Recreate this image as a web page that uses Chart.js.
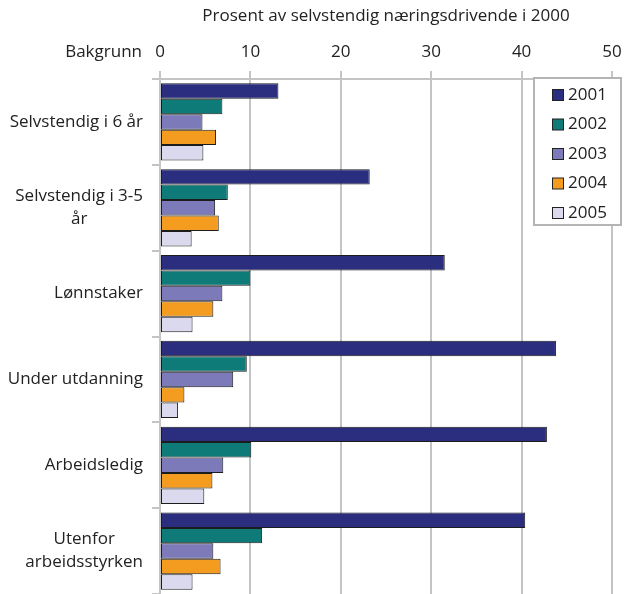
<!DOCTYPE html>
<html>
<head>
<meta charset="utf-8">
<script src="https://cdn.jsdelivr.net/npm/chart.js@4/dist/chart.umd.min.js"></script>
<style>
  html, body { margin: 0; padding: 0; background: #fff; }
  #wrap { width: 629px; height: 594px; }
</style>
</head>
<body>
<div id="wrap"><canvas id="c" width="629" height="594"></canvas></div>
<script>
// Background groups (multi-line labels as arrays)
const categories = [
  ['Selvstendig i 6 år'],
  ['Selvstendig i 3-5', 'år'],
  ['Lønnstaker'],
  ['Under utdanning'],
  ['Arbeidsledig'],
  ['Utenfor', 'arbeidsstyrken']
];
const years = ['2001', '2002', '2003', '2004', '2005'];

// Share (%) of self-employed in 2000, by year
const v2001 = [13.1, 23.2, 31.5, 43.8, 42.8, 40.4];
const v2002 = [6.9, 7.5, 10.0, 9.6, 10.1, 11.3];
const v2003 = [4.7, 6.1, 6.9, 8.1, 7.0, 5.9];
const v2004 = [6.2, 6.5, 5.9, 2.7, 5.8, 6.7];
const v2005 = [4.8, 3.5, 3.6, 2.0, 4.9, 3.6];

const xTicks = [0, 10, 20, 30, 40, 50];
const axisTitle = 'Prosent av selvstendig næringsdrivende i 2000';
const groupTitle = 'Bakgrunn';

const colors = ['#2b2e7f', '#0e7b78', '#7d7ab9', '#f39c1f', '#dad9ee'];
const series = [v2001, v2002, v2003, v2004, v2005];

const FONT = '"Open Sans", "Noto Sans", sans-serif';
const TEXT = '#222222';
const GRID = '#c4c4c4';

// Category labels: lines centred on each other, block right-aligned to the axis
const categoryLabels = {
  id: 'categoryLabels',
  afterDraw(chart) {
    const ctx = chart.ctx;
    const y = chart.scales.y;
    const right = y.right - 17;
    ctx.save();
    ctx.font = '17px ' + FONT;
    ctx.fillStyle = TEXT;
    ctx.textAlign = 'center';
    ctx.textBaseline = 'middle';
    const lh = 23;
    categories.forEach((lines, i) => {
      const cy = y.getPixelForValue(i);
      const w = Math.max(...lines.map(l => ctx.measureText(l).width));
      const cx = right - w / 2;
      const y0 = cy - (lines.length - 1) * lh / 2;
      lines.forEach((l, k) => ctx.fillText(l, cx, y0 + k * lh));
    });
    ctx.textAlign = 'right';
    ctx.fillText(groupTitle, right - 1, 52);
    ctx.restore();
  }
};

// Boxed legend in the upper right of the plot
const boxLegend = {
  id: 'boxLegend',
  afterDraw(chart) {
    const ctx = chart.ctx;
    const ds = chart.data.datasets;
    const bx = 534, by = 78, bw = 87, bh = 147;
    ctx.save();
    ctx.fillStyle = '#ffffff';
    ctx.fillRect(bx, by, bw, bh);
    ctx.strokeStyle = '#b4b4b4';
    ctx.lineWidth = 2;
    ctx.strokeRect(bx, by, bw, bh);
    ctx.font = '17px ' + FONT;
    ctx.textBaseline = 'middle';
    ctx.textAlign = 'left';
    ds.forEach((d, i) => {
      const cy = by + 17 + i * 29.5;
      ctx.fillStyle = d.backgroundColor;
      ctx.fillRect(552.5, cy - 5.5, 11, 11);
      ctx.strokeStyle = '#222';
      ctx.lineWidth = 1;
      ctx.strokeRect(552.5, cy - 5.5, 11, 11);
      ctx.fillStyle = TEXT;
      ctx.fillText(d.label, 568, cy);
    });
    ctx.restore();
  }
};

new Chart(document.getElementById('c'), {
  type: 'bar',
  data: {
    labels: categories.map(c => c.join(' ')),
    datasets: years.map((yr, i) => ({
      label: yr,
      data: series[i],
      backgroundColor: colors[i],
      borderColor: '#1c1c1c',
      borderWidth: 1,
      borderSkipped: false,
      categoryPercentage: 0.9,
      barPercentage: 1.0
    }))
  },
  options: {
    indexAxis: 'y',
    responsive: false,
    animation: false,
    layout: { padding: { left: 0, right: 17, top: 0, bottom: 0 } },
    plugins: {
      legend: { display: false },
      tooltip: { enabled: false }
    },
    scales: {
      x: {
        position: 'top',
        min: 0,
        max: 50,
        afterBuildTicks(scale) { scale.ticks = xTicks.map(v => ({ value: v })); },
        afterFit(scale) {
          scale.height = 79;
          scale.paddingLeft = 0;
          scale.paddingRight = 0;
        },
        ticks: {
          font: { family: FONT, size: 17 },
          color: TEXT,
          padding: 9,
          maxRotation: 0
        },
        grid: { color: GRID, lineWidth: 2, tickLength: 8 },
        border: { color: GRID, width: 2 },
        title: {
          display: true,
          text: axisTitle,
          font: { family: FONT, size: 17 },
          color: TEXT,
          padding: { top: 6, bottom: 0 }
        }
      },
      y: {
        type: 'category',
        position: 'left',
        afterFit(scale) { scale.width = 160; },
        ticks: { display: false },
        grid: {
          offset: true,
          drawOnChartArea: false,
          drawTicks: true,
          tickLength: 8,
          color: GRID,
          lineWidth: 2
        },
        border: { color: GRID, width: 2 }
      }
    }
  },
  plugins: [categoryLabels, boxLegend]
});
</script>
</body>
</html>
